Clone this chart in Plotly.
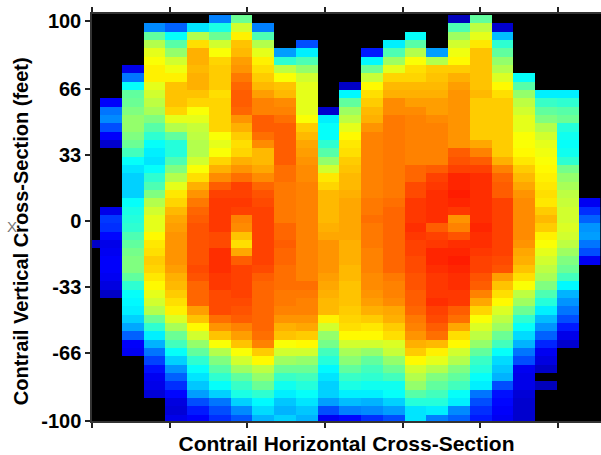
import plotly.graph_objects as go

N = None
# each list: values of one column, top row to bottom row (None = no data, black)
c_m1 = [N]*27 + [.06]
c00 = [N]*10 + [.12,.24,.26,.2,.12,.07] + [N]*7 + [.1,.18,.17,.13,.1,.11,.12,.12,.11,.09,.06]
c01 = [N]*6 + [.1,.24,.38,.47,.48,.5,.52,.52,.5,.48,.44,.38,.35,.33,.33,.33,.38,.4,.41,.42,.45,.47,.49,.5,.5,.47,.42,.38,.37,.36,.33,.29,.22,.12,.11]
c02 = [N]*1 + [.26,.47,.55,.6,.62,.64,.64,.6,.58,.56,.54,.5,.46,.42,.38,.36,.35,.38,.42,.45,.5,.55,.58,.6,.6,.63,.65,.66,.68,.67,.65,.63,.6,.58,.55,.48,.42,.36,.3,.24,.19,.14,.11,.1,.08]
c03 = [N]*1 + [.22,.38,.46,.52,.58,.61,.64,.69,.69,.69,.67,.6,.55,.47,.41,.41,.45,.5,.55,.6,.65,.67,.7,.72,.73,.74,.74,.74,.74,.73,.71,.7,.68,.66,.64,.59,.54,.48,.44,.38,.33,.27,.22,.17,.13,.09,.08,.1]
c04 = [N]*1 + [.35,.55,.66,.71,.71,.7,.71,.71,.69,.67,.62,.6,.57,.56,.55,.55,.58,.62,.66,.71,.74,.77,.79,.8,.81,.81,.81,.81,.81,.82,.81,.79,.79,.79,.73,.69,.63,.58,.52,.47,.42,.38,.35,.32,.28,.2,.15,.12]
c05 = [.25,.4,.48,.58,.62,.67,.68,.68,.68,.66,.67,.67,.67,.67,.62,.6,.62,.67,.71,.75,.8,.83,.84,.84,.84,.84,.82,.82,.85,.85,.85,.84,.84,.82,.82,.82,.78,.74,.69,.62,.55,.5,.46,.42,.38,.33,.24,.2,.17]
c06 = [.48,.58,.64,.69,.7,.73,.74,.77,.79,.8,.8,.79,.74,.71,.68,.66,.67,.71,.74,.78,.83,.83,.84,.83,.76,.75,.69,.66,.72,.8,.83,.83,.83,.83,.82,.81,.8,.76,.73,.69,.62,.58,.53,.47,.43,.4,.33,.26,.21]
c07 = [N]*1 + [.25,.45,.55,.6,.64,.66,.68,.7,.73,.76,.76,.8,.8,.78,.75,.7,.7,.72,.75,.79,.81,.82,.83,.83,.83,.83,.83,.83,.83,.82,.8,.79,.79,.79,.79,.79,.79,.78,.76,.68,.63,.56,.52,.48,.42,.37,.34,.3]
c08 = [N]*4 + [.28,.42,.56,.62,.69,.7,.75,.76,.78,.8,.8,.8,.8,.8,.78,.78,.77,.77,.77,.77,.77,.79,.79,.8,.79,.79,.78,.78,.78,.77,.77,.76,.74,.71,.69,.62,.58,.53,.48,.43,.39,.36,.32,.3,.33]
c09 = [N]*3 + [.2,.36,.45,.52,.58,.6,.6,.6,.6,.62,.68,.7,.72,.73,.74,.75,.75,.76,.76,.76,.76,.76,.76,.76,.76,.76,.76,.76,.76,.78,.77,.76,.76,.74,.72,.68,.63,.58,.52,.48,.44,.41,.38,.35,.32,.3]
c10 = [N]*11 + [.07,.36,.38,.38,.42,.46,.52,.58,.65,.67,.7,.7,.7,.7,.71,.72,.74,.74,.74,.74,.73,.72,.71,.7,.7,.64,.58,.52,.49,.44,.41,.37,.35,.33,.33,.28,.2,.11]
c11 = [N]*8 + [.06,.37,.47,.53,.56,.6,.63,.65,.66,.68,.69,.7,.7,.71,.72,.72,.72,.72,.72,.71,.71,.71,.7,.7,.69,.69,.69,.68,.67,.66,.63,.58,.54,.51,.47,.43,.4,.36,.31,.25,.13]
c12 = [N]*4 + [.15,.37,.48,.57,.63,.66,.68,.7,.71,.74,.76,.76,.76,.76,.76,.76,.76,.76,.77,.77,.78,.77,.77,.77,.76,.76,.76,.75,.75,.74,.73,.71,.68,.65,.63,.58,.52,.47,.44,.42,.39,.36,.3,.26,.17]
c13 = [N]*3 + [.36,.45,.53,.6,.67,.7,.71,.75,.75,.77,.77,.77,.77,.77,.77,.77,.77,.77,.77,.78,.79,.79,.79,.79,.79,.79,.79,.79,.77,.76,.76,.75,.72,.71,.68,.66,.59,.57,.52,.48,.44,.39,.38,.33,.28,.2]
c14 = [N]*2 + [.38,.46,.55,.62,.66,.67,.7,.71,.73,.75,.76,.76,.76,.76,.76,.76,.79,.79,.82,.82,.84,.84,.84,.85,.84,.83,.83,.82,.82,.81,.81,.8,.8,.79,.77,.76,.74,.71,.68,.63,.58,.55,.52,.46,.41,.35,.35]
c15 = [N]*4 + [.28,.55,.68,.69,.7,.71,.73,.73,.75,.76,.76,.76,.76,.76,.8,.83,.84,.85,.85,.85,.85,.8,.83,.84,.86,.86,.85,.84,.84,.84,.85,.83,.82,.8,.78,.7,.64,.6,.55,.5,.47,.44,.41,.36,.25]
c16 = [.05,.45,.53,.58,.61,.63,.68,.71,.73,.74,.74,.74,.74,.74,.74,.74,.8,.81,.83,.86,.86,.87,.86,.84,.74,.76,.81,.85,.86,.87,.86,.85,.85,.84,.84,.8,.78,.72,.66,.63,.58,.55,.5,.47,.44,.38,.36,.26,.22]
c17 = [.47,.56,.6,.65,.69,.69,.69,.69,.69,.7,.68,.68,.68,.68,.68,.72,.76,.8,.83,.85,.85,.85,.85,.85,.85,.86,.85,.85,.84,.83,.83,.81,.8,.76,.72,.67,.62,.59,.56,.52,.47,.43,.41,.38,.36,.24,.2,.17,.15]
c18 = [N]*1 + [.07,.31,.42,.47,.52,.55,.59,.63,.66,.68,.68,.68,.68,.68,.68,.68,.71,.76,.79,.8,.8,.83,.83,.83,.83,.83,.83,.83,.82,.81,.73,.69,.66,.63,.59,.56,.53,.48,.44,.38,.34,.32,.3,.2,.14,.13,.12,.11]
c19 = [N]*7 + [.38,.46,.52,.56,.58,.6,.6,.62,.62,.63,.65,.68,.7,.72,.74,.75,.75,.75,.75,.75,.74,.72,.71,.69,.66,.62,.56,.53,.48,.42,.38,.34,.3,.24,.2,.11,.1,.1,.08,.07,.07,.07]
c20 = [N]*9 + [.36,.43,.47,.5,.55,.58,.6,.61,.62,.63,.64,.65,.66,.65,.68,.7,.68,.64,.62,.6,.58,.56,.54,.5,.45,.41,.36,.31,.27,.22,.16,.11,.09,.06,N,.05]
c21 = [N]*9 + [.36,.42,.46,.48,.41,.39,.38,.39,.42,.49,.52,.54,.56,.57,.58,.58,.59,.58,.56,.53,.5,.48,.44,.37,.3,.27,.24,.2,.15,.1,.07]
c22 = [N]*22 + [.11,.17,.22,.27,.28,.24,.2,.11]

columns = [c_m1, c00, c01, c02, c03, c04, c05, c06, c07, c08, c09, c10, c11, c12, c13, c14, c15, c16, c17, c18, c19, c20, c21, c22]
n_rows = 49
padded = [(c + [N]*n_rows)[:n_rows] for c in columns]
z = [list(row) for row in zip(*padded)]

jet = [[0, "#00008f"], [.125, "#0000ff"], [.375, "#00ffff"], [.625, "#ffff00"], [.9, "#ff0000"], [1, "#800000"]]
y_ticks = [100, 66, 33, 0, -33, -66, -100]
y_labels = ["100", "66", "33", "0", "-33", "-66", "-100"]
font = "Liberation Sans"

fig = go.Figure(go.Heatmap(z=z, x0=-1, dx=1, y0=100.9, dy=-4.167, colorscale=jet, zmin=0, zmax=1,
                           showscale=False, hoverongaps=False))
axis_line = dict(showline=True, linecolor="#333", linewidth=1.5, mirror="ticks", ticks="outside", automargin=False,
                 tickcolor="#222", tickwidth=1.5, ticklen=5, showgrid=False, zeroline=False)
fig.update_xaxes(range=[-0.868, 22.545], tick0=-0.868, dtick=3.574, showticklabels=False,
                 title=dict(text="Contrail Horizontal Cross-Section", font=dict(family=font, size=21, color="black", weight="bold"), standoff=10),
                 **axis_line)
fig.update_yaxes(range=[-100, 103.5], tickmode="array", tickvals=y_ticks, ticktext=y_labels,
                 tickfont=dict(family=font, size=20, color="black", weight="bold"),
                 **axis_line)
fig.update_layout(width=601, height=455, margin=dict(l=92, r=0, t=14, b=34), plot_bgcolor="black", paper_bgcolor="white",
                  font=dict(family=font, color="black"),
                  annotations=[
                      dict(text="Contrail Vertical Cross-Section (feet)", textangle=-90, xref="paper", yref="paper",
                           x=-0.139, y=0.467, xanchor="center", yanchor="middle", showarrow=False,
                           font=dict(family=font, size=20, color="black", weight="bold")),
                      dict(text="X", xref="paper", yref="paper", x=-0.157, y=0.479, xanchor="center", yanchor="middle",
                           showarrow=False, font=dict(family=font, size=15, color="#777"))])
fig.write_html("out.html", post_script="document.body.style.margin='0';", config={"displayModeBar": False})
